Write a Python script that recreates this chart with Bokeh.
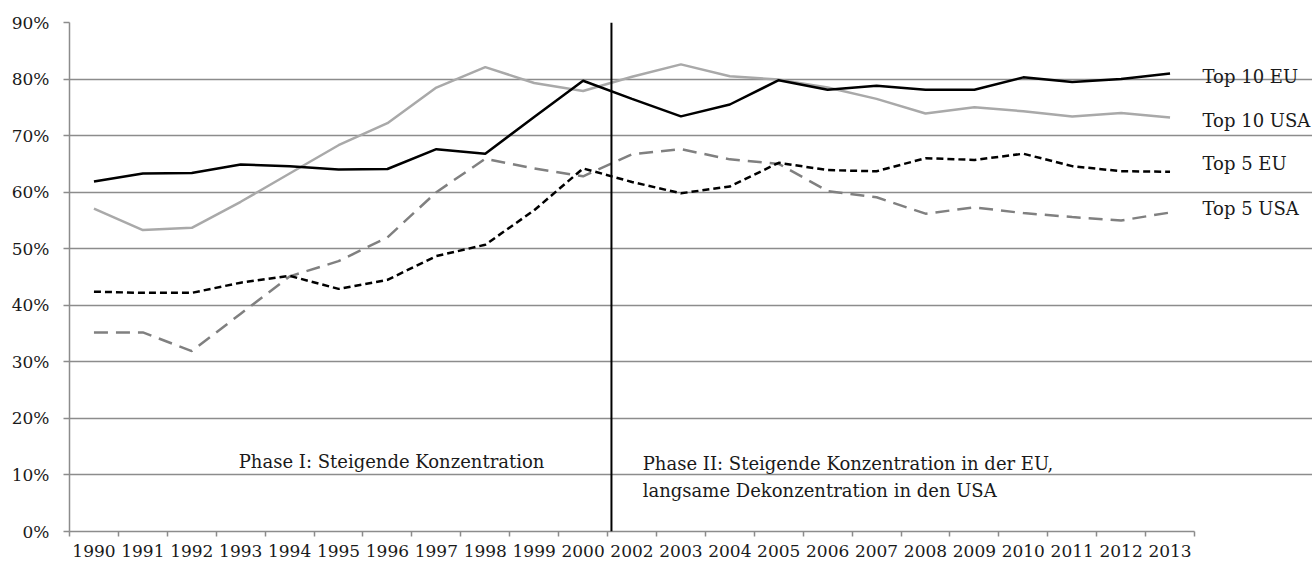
from bokeh.plotting import figure
from bokeh.models import Range1d, FixedTicker, Span, Label, PrintfTickFormatter
from bokeh.embed import file_html
from bokeh.resources import INLINE

years = ["1990", "1991", "1992", "1993", "1994", "1995", "1996", "1997", "1998", "1999", "2000",
         "2002", "2003", "2004", "2005", "2006", "2007", "2008", "2009", "2010", "2011", "2012", "2013"]

top10_eu = [61.9, 63.3, 63.4, 64.9, 64.6, 64.0, 64.1, 67.6, 66.8, 73.3, 79.7,
            76.5, 73.4, 75.5, 79.8, 78.1, 78.8, 78.1, 78.1, 80.3, 79.5, 80.0, 81.0]
top10_usa = [57.1, 53.3, 53.7, 58.3, 63.3, 68.3, 72.2, 78.5, 82.1, 79.3, 77.9,
             80.4, 82.6, 80.5, 79.9, 78.5, 76.5, 73.9, 75.0, 74.3, 73.4, 74.0, 73.2]
top5_eu = [42.4, 42.2, 42.2, 44.0, 45.2, 42.9, 44.5, 48.7, 50.7, 56.8, 64.2,
           61.8, 59.8, 61.0, 65.2, 63.9, 63.7, 66.0, 65.7, 66.8, 64.6, 63.7, 63.6]
top5_usa = [35.2, 35.2, 31.9, 38.5, 45.1, 47.8, 52.0, 60.0, 65.9, 64.2, 62.8,
            66.7, 67.6, 65.8, 65.0, 60.2, 59.1, 56.2, 57.3, 56.3, 55.6, 55.0, 56.4]

series_names = ["Top 10 EU", "Top 10 USA", "Top 5 EU", "Top 5 USA"]
y_ticks = [0, 10, 20, 30, 40, 50, 60, 70, 80, 90]

phase1_text = "Phase I: Steigende Konzentration"
phase2_lines = ["Phase II: Steigende Konzentration in der EU,",
                "langsame Dekonzentration in den USA"]

# style / positions
FONT = "DejaVu Serif"
TXT = "#1a1a1a"
GRID = "#8c8c8c"
W, H = 1312, 563
LEFT, TOP, BOTTOM = 69, 22, 32
AXIS_RIGHT = 1194          # pixel where the category axis ends
label_y = [80.5, 72.7, 65.1, 57.1]
divider_x = 11.08

n = len(years)
centers = [i + 0.5 for i in range(n)]
bounds = list(range(n + 1))
x_end = n * (W - LEFT) / (AXIS_RIGHT - LEFT)   # extra room on the right for the labels

p = figure(width=W, height=H, output_backend="svg", toolbar_location=None,
           x_range=Range1d(0, x_end), y_range=Range1d(0, 90),
           min_border_left=LEFT, min_border_right=0, min_border_top=TOP,
           min_border_bottom=BOTTOM)
p.outline_line_color = None
p.background_fill_color = "white"

# axes
p.xaxis.bounds = (0, n)
p.xaxis.ticker = FixedTicker(ticks=centers, minor_ticks=bounds)
p.xaxis.major_label_overrides = {c: y for c, y in zip(centers, years)}
p.xaxis.major_tick_line_color = None
p.xaxis.minor_tick_line_color = GRID
p.xaxis.minor_tick_line_width = 1.5
p.xaxis.minor_tick_out = 5
p.xaxis.minor_tick_in = 0
p.xaxis.axis_line_color = GRID
p.xaxis.axis_line_width = 1.5
p.xaxis.major_label_standoff = 7
p.xaxis.major_label_text_font = FONT
p.xaxis.major_label_text_font_size = "17px"
p.xaxis.major_label_text_color = TXT

p.yaxis.ticker = FixedTicker(ticks=y_ticks, minor_ticks=[])
p.yaxis.formatter = PrintfTickFormatter(format="%d%%")
p.yaxis.major_tick_out = 6
p.yaxis.major_tick_in = 0
p.yaxis.major_tick_line_color = GRID
p.yaxis.major_tick_line_width = 1.5
p.yaxis.axis_line_color = GRID
p.yaxis.axis_line_width = 1.5
p.yaxis.major_label_standoff = 14
p.yaxis.major_label_text_font = FONT
p.yaxis.major_label_text_font_size = "17px"
p.yaxis.major_label_text_color = TXT

p.xgrid.grid_line_color = None
p.ygrid.grid_line_color = GRID
p.ygrid.grid_line_width = 1.5
p.ygrid.bounds = (0, n)

# series
p.line(centers, top10_usa, line_color="#a9a9a9", line_width=2.5)
p.line(centers, top5_usa, line_color="#808080", line_width=2.5, line_dash="14 8")
p.line(centers, top5_eu, line_color="black", line_width=2.5, line_dash="7 4")
p.line(centers, top10_eu, line_color="black", line_width=2.5)

# divider
p.add_layout(Span(location=divider_x, dimension="height", line_color="black", line_width=2))

# series labels at right
for name, ly in zip(series_names, label_y):
    p.add_layout(Label(x=n, y=ly, x_offset=8, text=name, text_font=FONT,
                       text_font_size="18px", text_color=TXT, text_baseline="middle"))

# phase annotations
p.add_layout(Label(x=3.46, y=12.3, text=phase1_text, text_font=FONT,
                   text_font_size="18px", text_color=TXT, text_baseline="middle"))
for i, t in enumerate(phase2_lines):
    p.add_layout(Label(x=11.72, y=12.1 - 4.8 * i, text=t, text_font=FONT,
                       text_font_size="18px", text_color=TXT, text_baseline="middle"))

open("out.html", "w").write(file_html(p, INLINE))
